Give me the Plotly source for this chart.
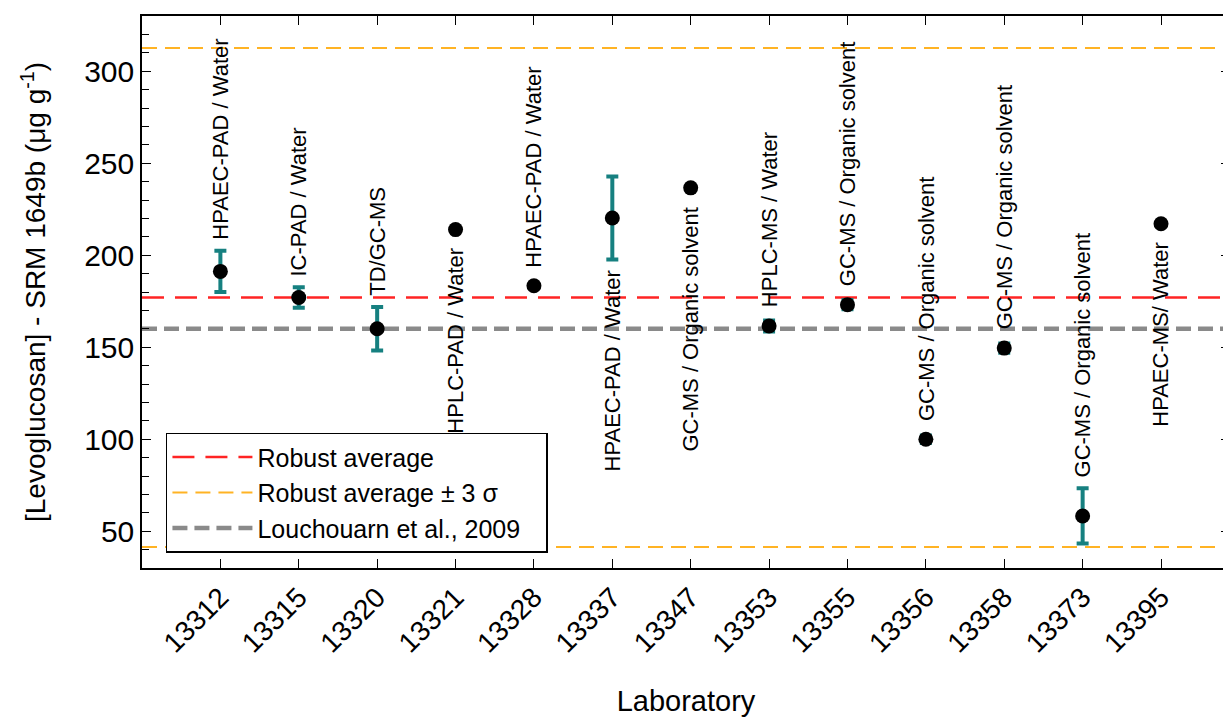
import plotly.graph_objects as go

# lab results
labs = ["13312", "13315", "13320", "13321", "13328", "13337", "13347",
        "13353", "13355", "13356", "13358", "13373", "13395"]
values = [191.2, 177.0, 160.0, 213.9, 183.4, 220.2, 236.6,
          161.5, 173.1, 100.0, 149.5, 58.3, 217.1]
errors = [11.2, 5.6, 11.8, 0, 0, 22.6, 0, 3.0, 2.5, 2.0, 2.5, 15.0, 0]
methods = ["HPAEC-PAD / Water", "IC-PAD / Water", "TD/GC-MS", "HPLC-PAD / Water",
           "HPAEC-PAD / Water", "HPAEC-PAD / Water", "GC-MS / Organic solvent",
           "HPLC-MS / Water", "GC-MS / Organic solvent", "GC-MS / Organic solvent",
           "GC-MS / Organic solvent", "GC-MS / Organic solvent", "HPAEC-MS/ Water"]
label_side = ["above", "above", "above", "below", "above", "below", "below",
              "above", "above", "above", "above", "above", "below"]

robust_avg = 177.0
sigma = 45.2
louchouarn = 160.0

yticks = [50, 100, 150, 200, 250, 300]

FONT = "Arial, Liberation Sans, sans-serif"
xr = [-1, 12.88]
yr = [30, 330]
# page body has an 8px margin, so the figure is 8px smaller than the window
W, H = 1223, 709
M = dict(l=134, r=1, t=8, b=149)
px_per_unit = (H - M["t"] - M["b"]) / (yr[1] - yr[0])
pad = "\u00a0\u00a0\u00a0"

x = list(range(len(labs)))

fig = go.Figure()

# reference lines
fig.add_trace(go.Scatter(x=xr, y=[robust_avg, robust_avg], mode="lines",
                         name="Robust average" + pad, legendgroup="a",
                         line=dict(color="#ff2424", width=2.5, dash="22px,11px")))
fig.add_trace(go.Scatter(x=xr + [None] + xr,
                         y=[robust_avg + 3 * sigma] * 2 + [None] + [robust_avg - 3 * sigma] * 2,
                         mode="lines", name="Robust average ± 3 σ" + pad, legendgroup="b",
                         line=dict(color="#ffb324", width=2, dash="15px,8px")))
fig.add_trace(go.Scatter(x=xr, y=[louchouarn, louchouarn], mode="lines",
                         name="Louchouarn et al., 2009" + pad, legendgroup="c",
                         line=dict(color="#8a8a8a", width=4.5, dash="15px,7px")))

fig.add_trace(go.Scatter(x=x, y=values, mode="markers", showlegend=False,
                         marker=dict(color="black", size=15),
                         error_y=dict(type="data", array=errors, visible=True,
                                      color="#168080", thickness=4, width=6)))

for i, (v, e, m, side) in enumerate(zip(values, errors, methods, label_side)):
    gap = 9 + max(0, 7.5 - e * px_per_unit)
    if side == "above":
        fig.add_annotation(x=i, y=v + e, text=m, textangle=-90, showarrow=False,
                           xanchor="center", yanchor="bottom", yshift=gap,
                           font=dict(family=FONT, size=22, color="black"))
    else:
        fig.add_annotation(x=i, y=v - e, text=m, textangle=-90, showarrow=False,
                           xanchor="center", yanchor="top", yshift=-gap,
                           font=dict(family=FONT, size=22, color="black"))

fig.update_layout(
    width=W, height=H, margin=M,
    plot_bgcolor="white", paper_bgcolor="white",
    font=dict(family=FONT, color="black"),
    legend=dict(x=0.022, y=0.245, xanchor="left", yanchor="top",
                bgcolor="white", bordercolor="black", borderwidth=1.5,
                font=dict(size=25, family=FONT), tracegroupgap=0,
                itemwidth=80),
    xaxis=dict(range=xr, tickmode="array", tickvals=x, ticktext=labs,
               tickangle=-45, tickfont=dict(size=28), automargin=False,
               ticks="inside", ticklen=9, tickcolor="black",
               showline=True, linecolor="black", linewidth=1.5, mirror="ticks",
               showgrid=False, zeroline=False,
               title=dict(text="Laboratory", font=dict(size=29), standoff=38)),
    yaxis=dict(range=yr, tickmode="array", tickvals=yticks,
               tickfont=dict(size=30), automargin=False,
               ticks="inside", ticklen=9, tickcolor="black",
               minor=dict(dtick=10, ticks="inside", ticklen=7, tickcolor="black"),
               showline=True, linecolor="black", linewidth=1.5, mirror="ticks",
               showgrid=False, zeroline=False,
               title=dict(text="[Levoglucosan] - SRM 1649b (μg g<sup>-1</sup>)",
                          font=dict(size=28), standoff=30)),
)

fig.write_html("out.html")
